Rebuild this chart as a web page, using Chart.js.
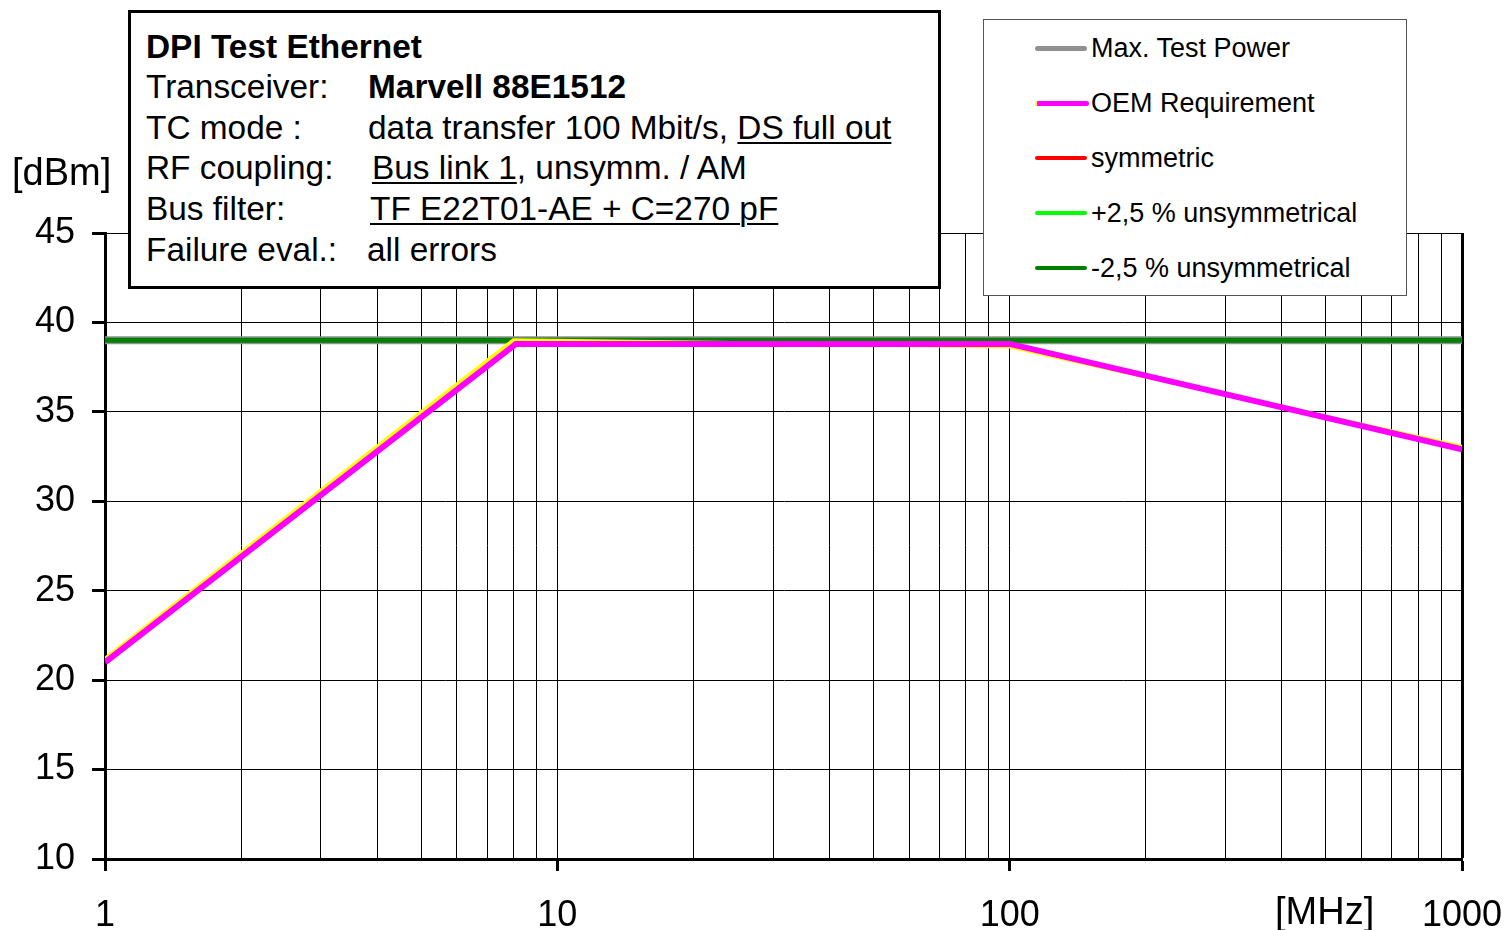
<!DOCTYPE html>
<html lang="en">
<head>
<meta charset="UTF-8">
<script src="https://cdn.jsdelivr.net/npm/chart.js"></script>
<title>DPI Test Ethernet</title>
<style>
  body { margin: 0; background: #fff; font-family: "Liberation Sans", Arial, sans-serif; }
  #wrap { position: relative; width: 1510px; height: 930px; }
  canvas { position: absolute; left: 0; top: 0; }
  .info { position: absolute; left: 128px; top: 10px; width: 813px; height: 279px; box-sizing: border-box;
          border: 3px solid #000; background: #fff; font-size: 33.4px; color: #000; }
  .info .row { position: absolute; left: 15px; height: 40px; line-height: 40px; white-space: nowrap; }
  .info .val { position: absolute; left: 222px; top: 0; }
  .info u { text-decoration-thickness: 2px; text-underline-offset: 3px; }
  .legend { position: absolute; left: 983px; top: 19px; width: 424px; height: 277px; box-sizing: border-box;
            border: 1px solid #555; background: #fff; font-size: 27px; }
  .legend .item { position: absolute; left: 51px; height: 30px; line-height: 30px; white-space: nowrap; }
  .legend .swatch { position: absolute; left: 0; width: 52px; border-radius: 3px; }
  .legend .txt { position: absolute; left: 56px; top: 0; }
  .axt { position: absolute; font-size: 38px; white-space: nowrap; line-height: 40px; }
</style>
</head>
<body>
<div id="wrap">
  <canvas id="chart" width="1510" height="930"></canvas>
  <div class="axt" style="left:12px; top:152px;">[dBm]</div>
  <div class="axt" style="left:1275px; top:891px;">[MHz]</div>
  <div class="info">
    <div class="row" style="top:14px; font-weight:bold;">DPI Test Ethernet</div>
    <div class="row" style="top:54px;">Transceiver:<span class="val" style="font-weight:bold;">Marvell 88E1512</span></div>
    <div class="row" style="top:95px;">TC mode :<span class="val">data transfer 100 Mbit/s, <u>DS full out</u></span></div>
    <div class="row" style="top:135px;">RF coupling:<span class="val" style="left:226px;"><u>Bus link 1</u>, unsymm. / AM</span></div>
    <div class="row" style="top:176px;">Bus filter:<span class="val" style="left:224px;"><u>TF E22T01-AE + C=270 pF</u></span></div>
    <div class="row" style="top:217px;">Failure eval.:<span class="val" style="left:221px;">all errors</span></div>
  </div>
  <div class="legend" id="legend"></div>
</div>
<script>
  // frequency axis [MHz]
  const xTicks = [1, 2, 3, 4, 5, 6, 7, 8, 9, 10, 20, 30, 40, 50, 60, 70, 80, 90, 100,
                  200, 300, 400, 500, 600, 700, 800, 900, 1000];
  const xLabels = ['1', '10', '100', '1000'];
  const yTicks = [10, 15, 20, 25, 30, 35, 40, 45];

  // flat test power lines
  const flatFreq = [1, 1000];
  const maxTestPower = [39, 39];
  const symmetric = [39, 39];
  const plusUnsym = [39, 39];
  const minusUnsym = [39, 39];

  // OEM requirement (magenta) and the yellow trace under it
  const oemFreq = [1, 8.1, 100, 1000];
  const oemLevel = [21, 38.8, 38.8, 32.9];
  const yellowFreq = [1, 8, 100, 1000];
  const yellowLevel = [21.2, 39, 38.65, 33.05];

  const toXY = (xs, ys) => xs.map((x, i) => ({ x: x, y: ys[i] }));

  const series = [
    { label: 'OEM Requirement', data: toXY(oemFreq, oemLevel), color: '#ff00ff', width: 6, order: 1 },
    { label: '', data: toXY(yellowFreq, yellowLevel), color: '#ffff00', width: 4, order: 2 },
    { label: '-2,5 % unsymmetrical', data: toXY(flatFreq, minusUnsym), color: '#008000', width: 5, order: 3 },
    { label: '+2,5 % unsymmetrical', data: toXY(flatFreq, plusUnsym), color: '#00ff00', width: 4, order: 4 },
    { label: 'symmetric', data: toXY(flatFreq, symmetric), color: '#ff0000', width: 4, order: 5 },
    { label: 'Max. Test Power', data: toXY(flatFreq, maxTestPower), color: '#909090', width: 8, order: 6 }
  ];

  const legendOrder = ['Max. Test Power', 'OEM Requirement', 'symmetric', '+2,5 % unsymmetrical', '-2,5 % unsymmetrical'];
  const legendEl = document.getElementById('legend');
  legendOrder.forEach((name, i) => {
    const s = series.find(d => d.label === name);
    const item = document.createElement('div');
    item.className = 'item';
    item.style.top = (13 + i * 55) + 'px';
    const h = (name === 'Max. Test Power' || name === 'OEM Requirement') ? 5 : 4;
    item.innerHTML = '<span class="swatch" style="top:' + (15 - h / 2) + 'px;height:' + h + 'px;background:' + s.color +
      (name === 'OEM Requirement' ? ';border-left:2px solid #ffff00' : '') + '"></span><span class="txt">' + name + '</span>';
    legendEl.appendChild(item);
  });

  const ctx = document.getElementById('chart').getContext('2d');
  new Chart(ctx, {
    type: 'line',
    data: {
      datasets: series.map(s => ({
        label: s.label,
        data: s.data,
        borderColor: s.color,
        backgroundColor: s.color,
        borderWidth: s.width,
        pointRadius: 0,
        tension: 0,
        order: s.order
      }))
    },
    options: {
      responsive: false,
      animation: false,
      layout: { padding: { top: 233, right: 48, left: 0, bottom: 0 } },
      plugins: { legend: { display: false }, tooltip: { enabled: false } },
      scales: {
        x: {
          type: 'logarithmic',
          min: 1,
          max: 1000,
          afterBuildTicks: scale => { scale.ticks = xTicks.map(v => ({ value: v })); },
          afterFit: scale => { scale.height = 71; scale.paddingLeft = 0; scale.paddingRight = 0; },
          border: { display: true, width: 3, color: '#000' },
          grid: {
            color: '#000',
            lineWidth: c => (c.tick && c.tick.value === 1000 ? 3 : 1),
            drawTicks: true,
            tickLength: 12,
            tickWidth: 3,
            tickColor: c => (xLabels.includes(String(c.tick.value)) ? '#000' : 'rgba(0,0,0,0)')
          },
          ticks: {
            autoSkip: false,
            maxRotation: 0,
            padding: 23,
            color: '#000',
            font: { family: '"Liberation Sans", Arial, sans-serif', size: 36 },
            callback: v => (xLabels.includes(String(v)) ? String(v) : '')
          }
        },
        y: {
          min: 10,
          max: 45,
          afterBuildTicks: scale => { scale.ticks = yTicks.map(v => ({ value: v })); },
          afterFit: scale => { scale.width = 105; scale.paddingTop = 0; scale.paddingBottom = 0; },
          border: { display: true, width: 3, color: '#000' },
          grid: {
            color: '#000',
            lineWidth: 1,
            drawTicks: true,
            tickLength: 13,
            tickWidth: 3,
            tickColor: '#000'
          },
          ticks: {
            padding: 17,
            color: '#000',
            font: { family: '"Liberation Sans", Arial, sans-serif', size: 36 }
          }
        }
      }
    }
  });
</script>
</body>
</html>
